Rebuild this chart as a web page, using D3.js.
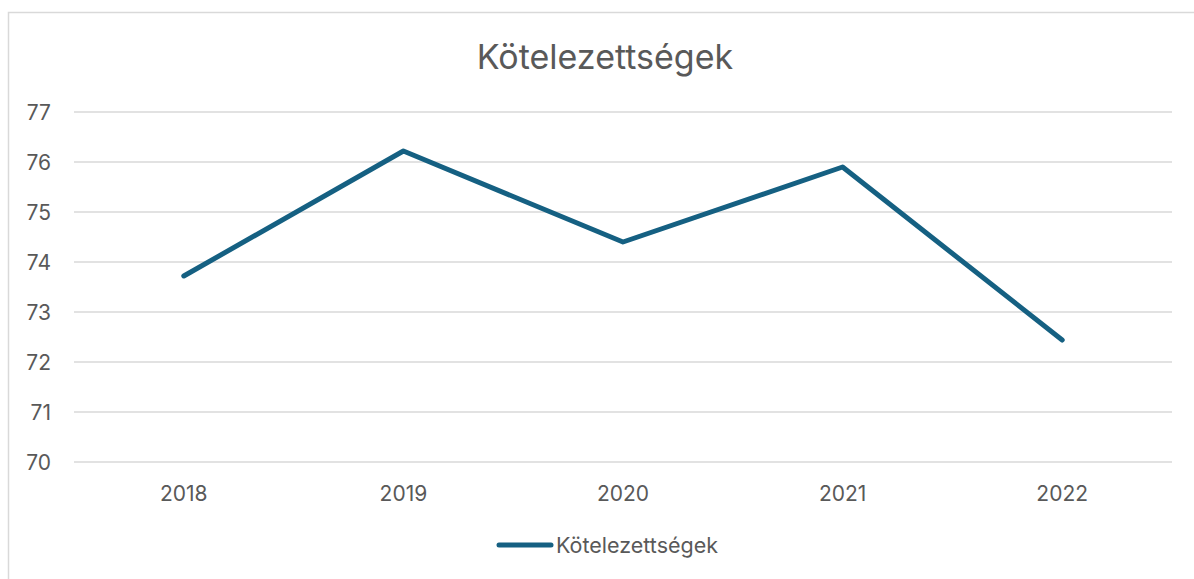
<!DOCTYPE html>
<html><head><meta charset="utf-8">
<script src="https://cdn.jsdelivr.net/npm/d3@7"></script>
<style>body{margin:0;background:#fff}svg{display:block}</style>
</head><body>
<svg id="c" width="1194" height="579"></svg>
<script>
const categories = ["2018","2019","2020","2021","2022"];
const values = [73.72, 76.22, 74.40, 75.90, 72.44];
const yTicks = [70,71,72,73,74,75,76,77];
const seriesName = "Kötelezettségek";
const title = "Kötelezettségek";

const svg = d3.select("#c");
const font = "Inter, 'Open Sans', sans-serif";
const grey = "#595959";
const color = "#156082";

svg.append("rect").attr("x",8.5).attr("y",12.5).attr("width",1200).attr("height",600)
  .attr("fill","#fff").attr("stroke","#d9d9d9").attr("stroke-width",1.5);

const x = d3.scaleBand().domain(categories).range([74,1172]);
const y = d3.scaleLinear().domain([70,77]).range([462,112]);

const grid = svg.append("g");
grid.selectAll("line").data(yTicks).join("line")
  .attr("x1",74).attr("x2",1172)
  .attr("y1",d=>y(d)).attr("y2",d=>y(d))
  .attr("stroke","#d9d9d9").attr("stroke-width",1.5);

svg.append("g").selectAll("text").data(yTicks).join("text")
  .attr("x",51).attr("y",d=>y(d)).attr("dy","0.36em")
  .attr("text-anchor","end").attr("fill",grey)
  .style("font-family",font).style("font-size","21px").text(d=>d);

svg.append("g").selectAll("text").data(categories).join("text")
  .attr("x",d=>x(d)+x.bandwidth()/2).attr("y",493).attr("dy","0.36em")
  .attr("text-anchor","middle").attr("fill",grey)
  .style("font-family",font).style("font-size","21px").text(d=>d);

const line = d3.line().x((d,i)=>x(categories[i])+x.bandwidth()/2).y(d=>y(d));
svg.append("path").datum(values).attr("d",line).attr("fill","none")
  .attr("stroke",color).attr("stroke-width",5).attr("stroke-linecap","round").attr("stroke-linejoin","round");

svg.append("text").attr("x",605).attr("y",57).attr("dy","0.36em")
  .attr("text-anchor","middle").attr("fill",grey)
  .style("font-family",font).style("font-size","34px").text(title);

svg.append("line").attr("x1",499).attr("x2",551).attr("y1",545).attr("y2",545)
  .attr("stroke",color).attr("stroke-width",5).attr("stroke-linecap","round");
svg.append("text").attr("x",556).attr("y",545).attr("dy","0.36em")
  .attr("fill",grey).style("font-family",font).style("font-size","21.5px").text(seriesName);
</script>
</body></html>
